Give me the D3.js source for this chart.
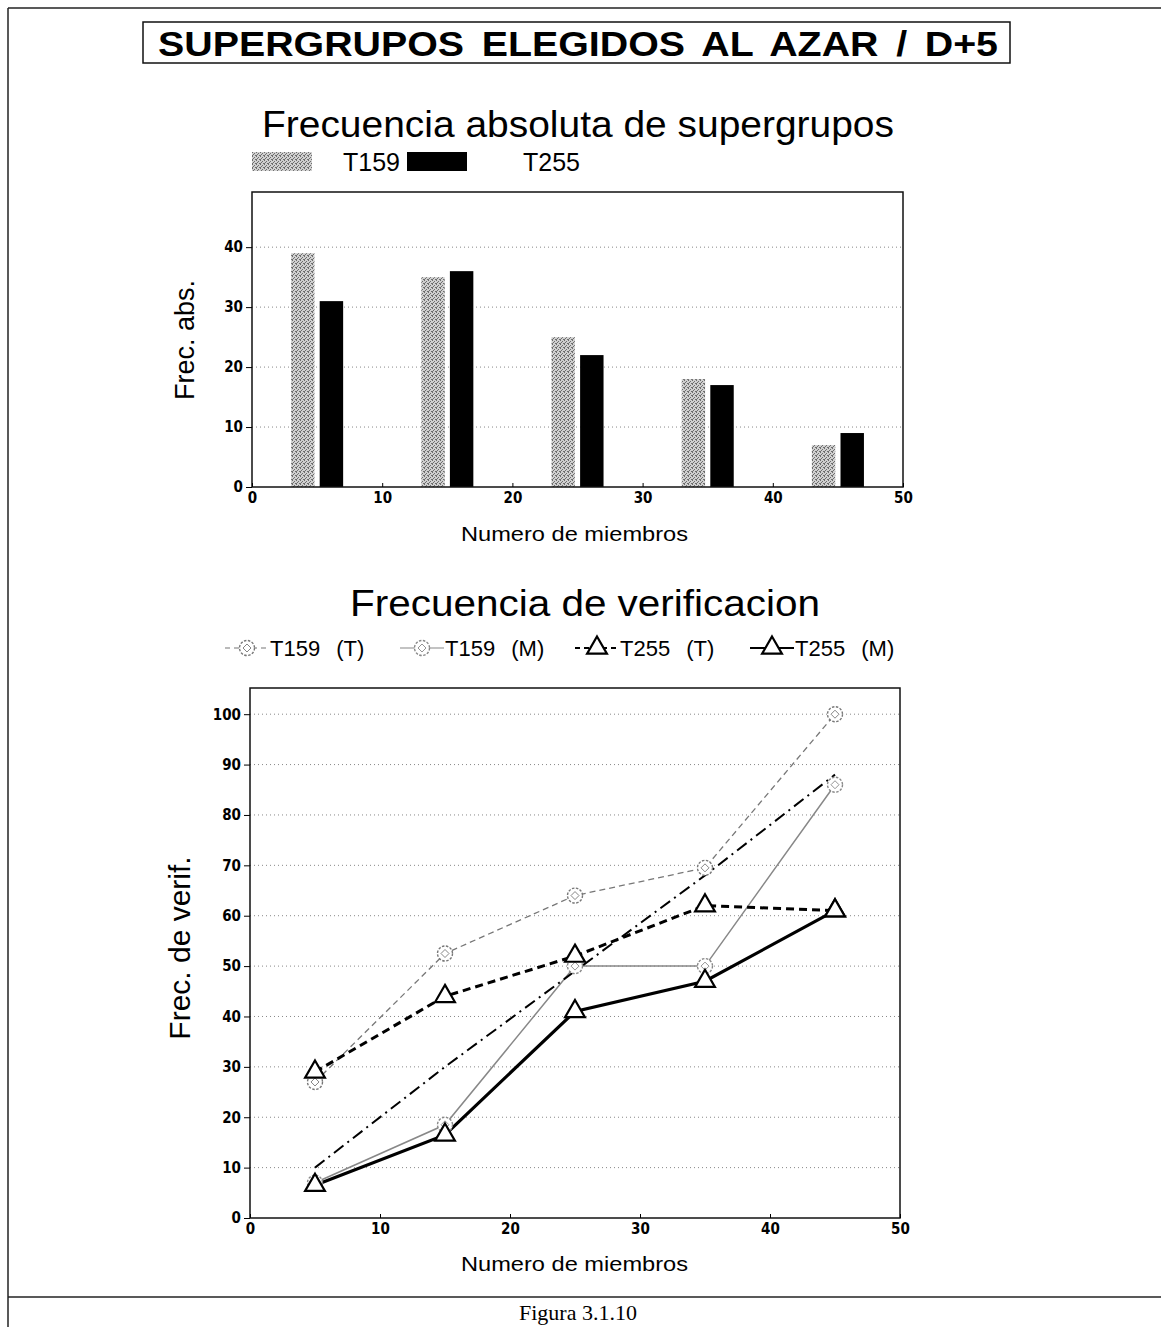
<!doctype html>
<html>
<head>
<meta charset="utf-8">
<script src="https://cdnjs.cloudflare.com/ajax/libs/d3/7.8.5/d3.min.js"></script>
<style>
body { margin: 0; background: white; }
svg text { font-family: "Liberation Sans", Arial, sans-serif; }
.tick text { font-family: "Liberation Sans Narrow", "DejaVu Sans Condensed", sans-serif; font-weight: bold; font-size: 15px; }
</style>
</head>
<body>
<div id="chart"></div>
<script>
// data
var groups = [5, 15, 25, 35, 45];
var barT159 = [39, 35, 25, 18, 7];
var barT255 = [31, 36, 22, 17, 9];

var verT159T = [27, 52.5, 64, 69.5, 100];
var verT159M = [7, 18.5, 50, 50, 86];
var verT255T = [29, 44, 52, 62, 61];
var verT255M = [6.5, 16.5, 41, 47, 61];
var verOther = [10, 30, 49, 68, 88];   // dash-dot line, not in legend

var xTicks = [0, 10, 20, 30, 40, 50];
var barTicks = [0, 10, 20, 30, 40];
var lineTicks = [0, 10, 20, 30, 40, 50, 60, 70, 80, 90, 100];

var width = 1161, height = 1327;

var svg = d3.select("#chart").append("svg")
    .attr("width", width).attr("height", height);

// stipple pattern for the gray bars
var defs = svg.append("defs");
var pat = defs.append("pattern").attr("id", "stip")
    .attr("width", 4).attr("height", 4).attr("patternUnits", "userSpaceOnUse");
pat.append("rect").attr("width", 4).attr("height", 4).attr("fill", "#d0d0d0");
[[0,0],[2,1],[1,2],[3,3],[0,3]].forEach(function(p) {
  pat.append("rect").attr("x", p[0]).attr("y", p[1]).attr("width", 1).attr("height", 1).attr("fill", "#6e6e6e");
});

// page frame
svg.append("line").attr("x1", 8).attr("x2", width).attr("y1", 8).attr("y2", 8).attr("stroke", "#222").attr("stroke-width", 1.5);
svg.append("line").attr("x1", 8).attr("x2", 8).attr("y1", 8).attr("y2", height).attr("stroke", "#222").attr("stroke-width", 1.5);
svg.append("line").attr("x1", 8).attr("x2", width).attr("y1", 1297).attr("y2", 1297).attr("stroke", "#222").attr("stroke-width", 1.5);

// title box
svg.append("rect").attr("x", 143).attr("y", 22).attr("width", 867).attr("height", 41)
    .attr("fill", "none").attr("stroke", "#111").attr("stroke-width", 1.5);
svg.append("text").attr("x", 158).attr("y", 56)
    .attr("textLength", 840).attr("lengthAdjust", "spacingAndGlyphs")
    .style("font-weight", "bold").style("font-size", "35px").style("word-spacing", "6px")
    .text("SUPERGRUPOS ELEGIDOS AL AZAR / D+5");

svg.append("text").attr("x", 262).attr("y", 137)
    .attr("textLength", 632).attr("lengthAdjust", "spacingAndGlyphs")
    .style("font-size", "36px").text("Frecuencia absoluta de supergrupos");

// bar legend
svg.append("rect").attr("x", 252).attr("y", 152).attr("width", 60).attr("height", 19).attr("fill", "url(#stip)");
svg.append("text").attr("x", 343).attr("y", 171).style("font-size", "25px").text("T159");
svg.append("rect").attr("x", 407).attr("y", 152).attr("width", 60).attr("height", 19).attr("fill", "#000");
svg.append("text").attr("x", 523).attr("y", 171).style("font-size", "25px").text("T255");

// ---------- bar chart ----------
var b = {left: 252, right: 903, top: 192, bottom: 487};
var xb = d3.scaleLinear().domain([0, 50]).range([b.left, b.right]);
var yb = d3.scaleLinear().domain([0, 49.2]).range([b.bottom, b.top]);

var gb = svg.append("g");
gb.selectAll(".grid").data(barTicks.slice(1)).enter().append("line")
    .attr("x1", b.left).attr("x2", b.right)
    .attr("y1", function(d) { return yb(d); }).attr("y2", function(d) { return yb(d); })
    .attr("stroke", "#888").attr("stroke-dasharray", "1,3");

gb.selectAll(".b159").data(groups).enter().append("rect")
    .attr("x", function(d) { return xb(d - 2); })
    .attr("width", xb(1.8) - xb(0))
    .attr("y", function(d, i) { return yb(barT159[i]); })
    .attr("height", function(d, i) { return yb(0) - yb(barT159[i]); })
    .attr("fill", "url(#stip)");
gb.selectAll(".b255").data(groups).enter().append("rect")
    .attr("x", function(d) { return xb(d + 0.2); })
    .attr("width", xb(1.8) - xb(0))
    .attr("y", function(d, i) { return yb(barT255[i]); })
    .attr("height", function(d, i) { return yb(0) - yb(barT255[i]); })
    .attr("fill", "#000");

gb.append("rect").attr("x", b.left).attr("y", b.top).attr("width", b.right - b.left).attr("height", b.bottom - b.top)
    .attr("fill", "none").attr("stroke", "#111").attr("stroke-width", 1.5);

gb.append("g").attr("transform", "translate(" + b.left + ",0)")
    .call(d3.axisLeft(yb).tickValues(barTicks).tickSize(6).tickPadding(3))
    .call(function(g) { g.select(".domain").remove(); });
gb.append("g").attr("transform", "translate(0," + b.bottom + ")")
    .call(d3.axisBottom(xb).tickValues(xTicks).tickSize(-4).tickPadding(5))
    .call(function(g) { g.select(".domain").remove(); });

svg.append("text").attr("transform", "translate(194,340) rotate(-90)").attr("text-anchor", "middle")
    .style("font-size", "27px").text("Frec. abs.");
svg.append("text").attr("x", 461).attr("y", 541)
    .attr("textLength", 227).attr("lengthAdjust", "spacingAndGlyphs")
    .style("font-size", "21px").text("Numero de miembros");

// ---------- line chart ----------
svg.append("text").attr("x", 350).attr("y", 616)
    .attr("textLength", 470).attr("lengthAdjust", "spacingAndGlyphs")
    .style("font-size", "36px").text("Frecuencia de verificacion");

var l = {left: 250, right: 900, top: 688, bottom: 1218};
var xl = d3.scaleLinear().domain([0, 50]).range([l.left, l.right]);
var yl = d3.scaleLinear().domain([0, 105.2]).range([l.bottom, l.top]);

var series = [
  {name: "T159 (T)", vals: verT159T, color: "#777", w: 1.3, dash: "6,4", mark: "circle"},
  {name: "T159 (M)", vals: verT159M, color: "#888", w: 1.5, dash: null, mark: "circle"},
  {name: "T255 (T)", vals: verT255T, color: "#000", w: 3, dash: "8,5", mark: "tri"},
  {name: "T255 (M)", vals: verT255M, color: "#000", w: 3.2, dash: null, mark: "tri"},
  {name: "", vals: verOther, color: "#000", w: 2, dash: "12,5,2,5", mark: null}
];

var gl = svg.append("g");
gl.selectAll(".grid").data(lineTicks.slice(1)).enter().append("line")
    .attr("x1", l.left).attr("x2", l.right)
    .attr("y1", function(d) { return yl(d); }).attr("y2", function(d) { return yl(d); })
    .attr("stroke", "#888").attr("stroke-dasharray", "1,3");

var line = d3.line().x(function(d) { return xl(d[0]); }).y(function(d) { return yl(d[1]); });
var triSym = d3.symbol().type(d3.symbolTriangle).size(170);

function drawMark(g, type, x, y, color) {
  if (type === "circle") {
    g.append("circle").attr("cx", x).attr("cy", y).attr("r", 7.5)
        .attr("fill", "white").attr("stroke", color).attr("stroke-width", 1.4).attr("stroke-dasharray", "2.5,1.5");
    g.append("path").attr("d", "M" + (x - 4) + "," + y + "L" + x + "," + (y - 4) + "L" + (x + 4) + "," + y + "L" + x + "," + (y + 4) + "Z")
        .attr("fill", "none").attr("stroke", color).attr("stroke-width", 0.9);
  } else if (type === "tri") {
    g.append("path").attr("d", triSym()).attr("transform", "translate(" + x + "," + y + ")")
        .attr("fill", "white").attr("stroke", color).attr("stroke-width", 2.2);
  }
}

series.forEach(function(s) {
  var pts = groups.map(function(g, i) { return [g, s.vals[i]]; });
  gl.append("path").datum(pts).attr("d", line)
      .attr("fill", "none").attr("stroke", s.color).attr("stroke-width", s.w)
      .attr("stroke-dasharray", s.dash);
});
series.forEach(function(s) {
  groups.forEach(function(g, i) { drawMark(gl, s.mark, xl(g), yl(s.vals[i]), s.color); });
});

gl.append("rect").attr("x", l.left).attr("y", l.top).attr("width", l.right - l.left).attr("height", l.bottom - l.top)
    .attr("fill", "none").attr("stroke", "#111").attr("stroke-width", 1.5);
gl.append("g").attr("transform", "translate(" + l.left + ",0)")
    .call(d3.axisLeft(yl).tickValues(lineTicks).tickSize(6).tickPadding(3))
    .call(function(g) { g.select(".domain").remove(); });
gl.append("g").attr("transform", "translate(0," + l.bottom + ")")
    .call(d3.axisBottom(xl).tickValues(xTicks).tickSize(-4).tickPadding(5))
    .call(function(g) { g.select(".domain").remove(); });

svg.append("text").attr("transform", "translate(190,948) rotate(-90)").attr("text-anchor", "middle")
    .style("font-size", "30px").text("Frec. de verif.");
svg.append("text").attr("x", 461).attr("y", 1271)
    .attr("textLength", 227).attr("lengthAdjust", "spacingAndGlyphs")
    .style("font-size", "21px").text("Numero de miembros");

// line legend
var lg = svg.append("g");
series.slice(0, 4).forEach(function(s, i) {
  var lx = 225 + i * 175;
  lg.append("line").attr("x1", lx).attr("x2", lx + 44).attr("y1", 648).attr("y2", 648)
      .attr("stroke", s.color).attr("stroke-width", s.w > 2 ? 2 : 1.2).attr("stroke-dasharray", s.dash ? "5,4" : null);
  drawMark(lg, s.mark, lx + 22, 648, s.color);
  lg.append("text").attr("x", lx + 45).attr("y", 656)
      .style("font-size", "22px").style("word-spacing", "10px").text(s.name);
});

svg.append("text").attr("x", 578).attr("y", 1320).attr("text-anchor", "middle")
    .style("font-family", "'Liberation Serif', 'Times New Roman', serif").style("font-size", "22px")
    .text("Figura 3.1.10");
</script>
</body>
</html>
